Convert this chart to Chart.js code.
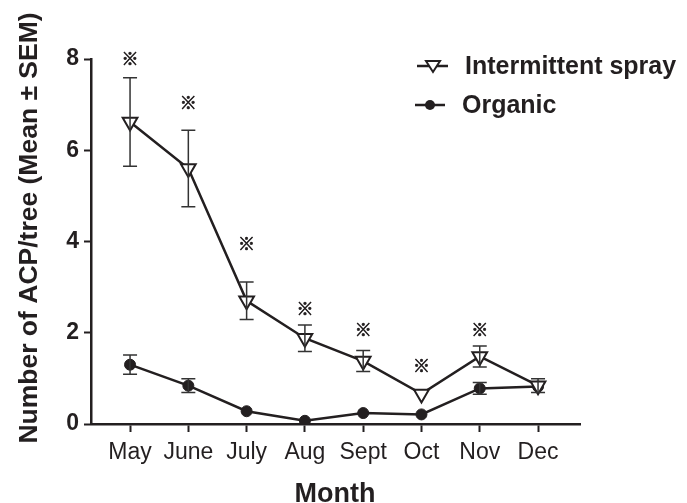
<!DOCTYPE html>
<html>
<head>
<meta charset="utf-8">
<script src="https://cdn.jsdelivr.net/npm/chart.js@4"></script>
<style>
  body { margin: 0; background: #fff; }
  canvas { display: block; }
</style>
</head>
<body>
<canvas id="acpChart" width="687" height="503"></canvas>
<script>
// ---- data ----
const months = ["May", "June", "July", "Aug", "Sept", "Oct", "Nov", "Dec"];
const yTicks = [0, 2, 4, 6, 8];

const sprayMean = [6.62, 5.6, 2.7, 1.88, 1.38, 0.66, 1.48, 0.84];
const spraySem = [0.97, 0.84, 0.41, 0.29, 0.23, 0.05, 0.23, 0.15];

const organicMean = [1.3, 0.84, 0.28, 0.07, 0.24, 0.21, 0.78, 0.82];
const organicSem = [0.21, 0.15, 0.04, 0.03, 0.04, 0.04, 0.13, 0.08];

// where the significance marks sit (null = none)
const starY = [8.0, 7.04, 3.96, 2.53, 2.07, 1.28, 2.07, null];

const INK = "#231f20";
const FONT = "'Liberation Sans', Arial, sans-serif";

function toPoints(values) {
    return values.map((v, i) => ({ x: i, y: v }));
}

// error bars, asterisks, legend and axis titles
const extras = {
    id: "extras",
    afterDatasetsDraw(chart) {
        const ctx = chart.ctx;
        const xs = chart.scales.x;
        const ys = chart.scales.y;

        ctx.save();
        ctx.strokeStyle = "#333";
        ctx.lineWidth = 1.5;
        [[sprayMean, spraySem], [organicMean, organicSem]].forEach(([mean, sem]) => {
            mean.forEach((v, i) => {
                const px = xs.getPixelForValue(i);
                const top = ys.getPixelForValue(v + sem[i]);
                const bot = ys.getPixelForValue(v - sem[i]);
                if ((bot - top) / 2 < 5) return; // hidden behind the marker
                ctx.beginPath();
                ctx.moveTo(px, top); ctx.lineTo(px, bot);
                ctx.moveTo(px - 7, top); ctx.lineTo(px + 7, top);
                ctx.moveTo(px - 7, bot); ctx.lineTo(px + 7, bot);
                ctx.stroke();
            });
        });

        // significance marks, stroked a little to look heavier
        ctx.fillStyle = INK;
        ctx.strokeStyle = INK;
        ctx.lineWidth = 0.7;
        ctx.font = "bold 17px 'Noto Sans CJK JP', 'DejaVu Sans', sans-serif";
        ctx.textAlign = "center";
        ctx.textBaseline = "middle";
        starY.forEach((v, i) => {
            if (v === null) return;
            const px = xs.getPixelForValue(i);
            const py = ys.getPixelForValue(v);
            ctx.fillText("※", px, py);
            ctx.strokeText("※", px, py);
        });
        ctx.restore();
    },
    afterDraw(chart) {
        const ctx = chart.ctx;
        ctx.save();
        ctx.fillStyle = INK;
        ctx.strokeStyle = INK;

        // legend
        ctx.lineWidth = 2.5;
        ctx.beginPath();
        ctx.moveTo(417, 66); ctx.lineTo(448, 66);
        ctx.moveTo(415, 105); ctx.lineTo(445, 105);
        ctx.stroke();

        ctx.fillStyle = "#fff";
        ctx.lineWidth = 2;
        ctx.beginPath();
        ctx.moveTo(426, 61); ctx.lineTo(440, 61); ctx.lineTo(433, 72);
        ctx.closePath();
        ctx.fill(); ctx.stroke();

        ctx.fillStyle = INK;
        ctx.beginPath();
        ctx.arc(430, 105, 5, 0, Math.PI * 2);
        ctx.fill();

        ctx.font = "bold 25px " + FONT;
        ctx.textAlign = "left";
        ctx.textBaseline = "middle";
        ctx.fillText("Intermittent spray", 465, 67);
        ctx.fillText("Organic", 462, 106);

        // axis titles
        ctx.textAlign = "center";
        ctx.textBaseline = "alphabetic";
        ctx.font = "bold 27px " + FONT;
        ctx.fillText("Month", 335, 502);

        ctx.translate(37, 228);
        ctx.rotate(-Math.PI / 2);
        ctx.font = "bold 26.5px " + FONT;
        ctx.fillText("Number of ACP/tree (Mean \u00b1 SEM)", 0, 0);
        ctx.restore();
    }
};

new Chart(document.getElementById("acpChart"), {
    type: "line",
    data: {
        datasets: [
            {
                label: "Intermittent spray",
                data: toPoints(sprayMean),
                borderColor: INK,
                borderWidth: 2.5,
                pointStyle: "triangle",
                rotation: 180,
                pointRadius: 8.5,
                pointBorderWidth: 2,
                pointBackgroundColor: "#fff",
                pointBorderColor: INK,
                tension: 0
            },
            {
                label: "Organic",
                data: toPoints(organicMean),
                borderColor: INK,
                borderWidth: 2.5,
                pointStyle: "circle",
                pointRadius: 5.5,
                pointBorderWidth: 1,
                pointBackgroundColor: INK,
                pointBorderColor: INK,
                tension: 0
            }
        ]
    },
    options: {
        responsive: false,
        animation: false,
        layout: { padding: { left: 0, top: 59, right: 107, bottom: 0 } },
        plugins: {
            legend: { display: false },
            tooltip: { enabled: false }
        },
        scales: {
            x: {
                type: "linear",
                min: -0.67,
                max: 7.72,
                afterBuildTicks(scale) {
                    scale.ticks = months.map((m, i) => ({ value: i }));
                },
                afterFit(scale) { scale.height = 79; },
                ticks: {
                    color: INK,
                    padding: 7,
                    font: { family: FONT, size: 23 },
                    callback: (value) => months[value]
                },
                grid: {
                    drawOnChartArea: false,
                    tickLength: 8,
                    tickWidth: 2,
                    tickColor: INK
                },
                border: { color: INK, width: 2.5 }
            },
            y: {
                min: 0,
                max: 8,
                afterBuildTicks(scale) {
                    scale.ticks = yTicks.map((v) => ({ value: v }));
                },
                afterFit(scale) { scale.width = 91; },
                ticks: {
                    color: INK,
                    padding: 5,
                    font: { family: FONT, size: 23, weight: "bold" }
                },
                grid: {
                    drawOnChartArea: false,
                    tickLength: 7,
                    tickWidth: 2,
                    tickColor: INK
                },
                border: { color: INK, width: 2.5 }
            }
        }
    },
    plugins: [extras]
});
</script>
</body>
</html>
